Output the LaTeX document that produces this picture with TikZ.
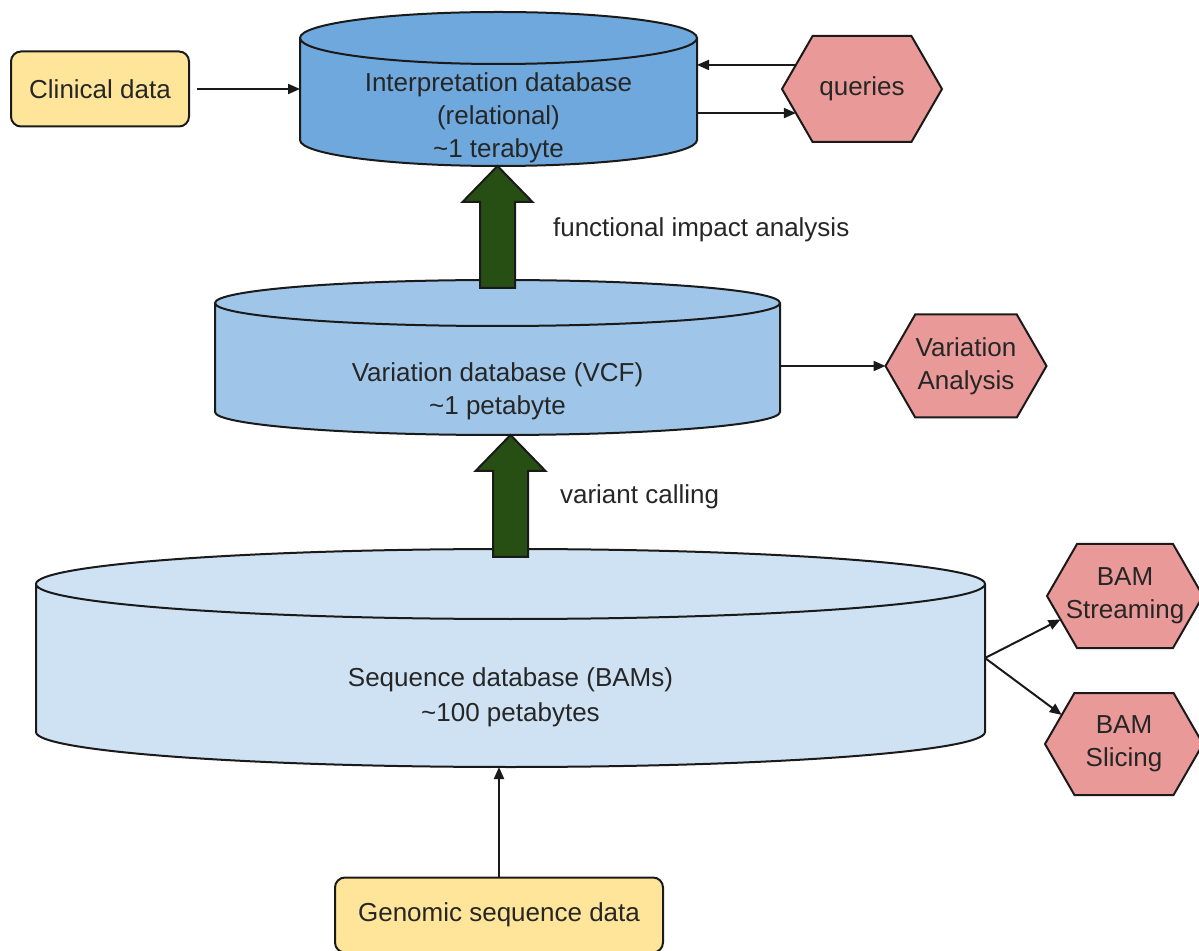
\documentclass[tikz,border=0pt]{standalone}
\usepackage{fontspec}
\setmainfont{Liberation Sans}
\usepackage{tikz}
\usetikzlibrary{shapes.symbols, arrows.meta, positioning, calc}

\definecolor{srcyellow}{HTML}{FFE599}
\definecolor{dbdark}{HTML}{6FA8DC}
\definecolor{dbmid}{HTML}{9FC5E8}
\definecolor{dblight}{HTML}{CFE2F3}
\definecolor{useredhex}{HTML}{EA9999}
\definecolor{arrowgreen}{HTML}{274E13}
\definecolor{lineblack}{HTML}{1A1A1A}

% cylinder round a named body node: name, x radius, y radius, fill
\newcommand{\dbcyl}[4]{%
    \fill[#4] (#1.north west) -- (#1.south west)
        arc[start angle=180, end angle=360, x radius=#2, y radius=#3] -- (#1.north east)
        arc[start angle=0, end angle=180, x radius=#2, y radius=#3] -- cycle;
    \draw[dbline] (#1.north west) -- (#1.south west)
        arc[start angle=180, end angle=360, x radius=#2, y radius=#3] -- (#1.north east)
        arc[start angle=0, end angle=180, x radius=#2, y radius=#3]
        arc[start angle=180, end angle=360, x radius=#2, y radius=#3];
    \coordinate (#1-top) at ([yshift=#3]#1.north);
    \coordinate (#1-bot) at ([yshift=-#3]#1.south);
}

\begin{document}
\begin{tikzpicture}[
        x=0.5pt, y=-0.5pt,
        % --- Style Definitions ---
        txt/.style={font=\fontsize{13}{16.5}\selectfont, text=black!85},
        source/.style={txt, rectangle, rounded corners=5pt, draw=lineblack, line width=1pt, fill=srcyellow, minimum height=37.5pt, align=center},
        dbbody/.style={rectangle, inner sep=0pt, outer sep=0pt},
        dbline/.style={draw=lineblack, line width=1pt},
        dbtext/.style={txt, align=center},
        usehex/.style={txt, signal, signal to=west and east, signal pointer angle=120, draw=lineblack, line width=1pt, fill=useredhex, inner sep=0pt, outer sep=0pt, align=center},
        arrow/.style={-{Triangle[length=6pt, width=5pt]}, draw=lineblack, line width=1pt},
        steplabel/.style={txt, anchor=west},
        bigarrow/.style={draw=lineblack, line width=1pt, fill=arrowgreen, line join=miter,
            to path={let \p1=(\tikztostart), \p2=(\tikztotarget) in
                (\x1-8.75pt,\y1) -- (\x1-8.75pt,\y2-18pt) -- (\x1-17.5pt,\y2-18pt) -- (\x1,\y2)
                -- (\x1+17.5pt,\y2-18pt) -- (\x1+8.75pt,\y2-18pt) -- (\x1+8.75pt,\y1) -- cycle}}
    ]

        \useasboundingbox (0,0) rectangle (1199,951);

        %################################################################
        %### Databases ##################################################
        %################################################################

        % --- Interpretation database ---
        \node[dbbody, minimum width=198.5pt, minimum height=51pt] (interp) at (498.5,89) {};
        \dbcyl{interp}{99.25pt}{13pt}{dbdark}
        \node[dbtext] (interp_txt) at ([yshift=-14.5pt]interp.center) {Interpretation database\\(relational)\\\textasciitilde1 terabyte};

        % --- Variation database ---
        \node[dbbody, minimum width=282.5pt, minimum height=54.5pt] (vardb) at (497.5,357.5) {};
        \dbcyl{vardb}{141.25pt}{11.5pt}{dbmid}
        \node[dbtext] (vardb_txt) at ([yshift=-17pt]vardb.center) {Variation database (VCF)\\\textasciitilde1 petabyte};

        % --- Sequence database ---
        \node[dbbody, minimum width=474.5pt, minimum height=74pt] (seqdb) at (510.5,658) {};
        \dbcyl{seqdb}{237.25pt}{17.5pt}{dblight}
        \node[dbtext, font=\fontsize{13}{17.5}\selectfont] (seqdb_txt) at ([yshift=-19.5pt]seqdb.center) {Sequence database (BAMs)\\\textasciitilde100 petabytes};

        % --- Inputs ---
        \node[source, minimum width=89pt] (clinical) [left=55pt of interp] {Clinical data};
        \node[source, minimum width=164pt] (genomic) at (499,915) {Genomic sequence data};

        % --- Uses ---
        \node[usehex, minimum width=80pt, minimum height=53pt] (queries) [right=42.5pt of interp] {queries};
        \node[usehex, minimum width=80.5pt, minimum height=51.5pt] (varan) at (966,366) {Variation\\Analysis};
        \node[usehex, minimum width=78pt, minimum height=52pt] (bamstream) at (1125,596) {BAM\\\makebox[0pt]{Streaming}};
        \node[usehex, minimum width=79pt, minimum height=51pt] (bamslice) at (1124,744) {BAM\\Slicing};

        % --- Processing steps ---
        \draw[bigarrow] ([yshift=-4pt]vardb-top) to (interp-bot);
        \draw[bigarrow] ([yshift=-4pt]seqdb-top) to (vardb-bot);
        \node[steplabel] (fia_label) at (546,230) {functional impact analysis};
        \node[steplabel] (vc_label) at (553,497) {variant calling};

        % --- Data Flow Arrows ---
        \draw[arrow, shorten <=3.5pt] (clinical) -- (interp);
        \draw[arrow] (queries.160) -- (interp.east |- queries.160);
        \draw[arrow] (interp.east |- queries.200) -- (queries.200);
        \draw[arrow] (vardb.east |- varan.west) -- (varan.west);
        \draw[arrow] (seqdb.east) -- (bamstream.200);
        \draw[arrow] (seqdb.east) -- (bamslice.155);
        \draw[arrow] (genomic) -- (genomic |- seqdb-bot);

    \end{tikzpicture}
\end{document}
